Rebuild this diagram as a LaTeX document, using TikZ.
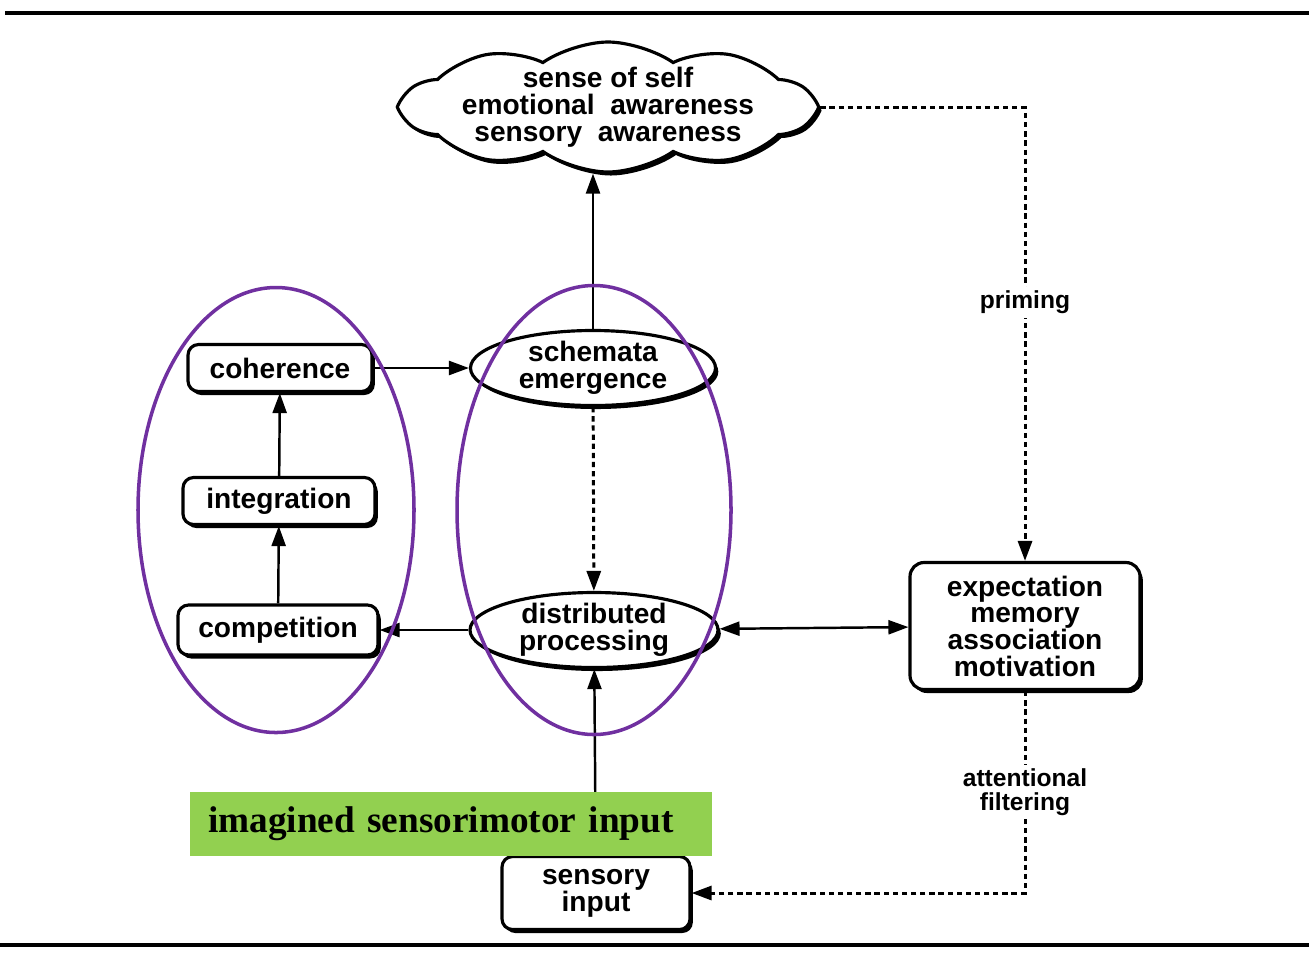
\documentclass[tikz,border=0pt]{standalone}
\usepackage{fontspec}
\setmainfont{Liberation Serif}
\newfontfamily\figfont{Liberation Sans}
\usetikzlibrary{arrows.meta,shapes.geometric,shapes.symbols,shadows}
\definecolor{grpviolet}{RGB}{112,48,160}
\definecolor{imaggreen}{RGB}{146,208,80}

\begin{document}
\begin{tikzpicture}[%
>={Triangle[length=2mm,width=1.4mm]},
% common options for the boxes:
box/.style = {draw, line width=0.9pt, rounded corners=3pt, fill=white, align=center,
            font=\figfont\bfseries\fontsize{8}{7.6}\selectfont, inner sep=0,
            drop shadow={shadow xshift=0.8pt, shadow yshift=-1pt, fill=black, opacity=1}},
% common options for the ellipses:
oval/.style = {ellipse, draw, line width=0.9pt, fill=white, align=center,
            font=\figfont\bfseries\fontsize{8}{7.6}\selectfont, inner sep=0,
            drop shadow={shadow xshift=0.8pt, shadow yshift=-1pt, fill=black, opacity=1}},
link/.style = {line width=0.7pt, ->},
dots/.style = {link, line width=0.85pt, dash pattern=on 1.5pt off 1.1pt},
note/.style = {fill=white, font=\figfont\bfseries\fontsize{7}{7}\selectfont, align=center, inner sep=1pt},
group/.style = {ellipse, draw=grpviolet, line width=1pt, inner sep=0}]
\useasboundingbox (0,0) rectangle (13.09,-9.58);
% rules above and below
\draw[line width=1.1pt] (0.05,-0.13) -- (13.09,-0.13);
\draw[line width=1.1pt] (0,-9.45) -- (13.09,-9.45);
% the nodes
\node[cloud, cloud puffs=10, cloud puff arc=70, cloud ignores aspect, draw, fill=white,
      line width=0.9pt, minimum width=4.1cm, minimum height=1.3cm, inner sep=0,
      drop shadow={shadow xshift=0.8pt, shadow yshift=-1pt, fill=black, opacity=1}]
      (self) at (6.08,-1.07) {};
\node[align=center, inner sep=0, font=\figfont\bfseries\fontsize{8}{7.7}\selectfont]
      (selftxt) at (self.center) {sense of self\\emotional\ \ awareness\\sensory\ \ awareness};
\node[oval, minimum width=2.45cm, minimum height=0.7cm] (schem) at (5.93,-3.68) {schemata\\emergence};
\node[oval, minimum width=2.48cm, minimum height=0.7cm] (distr) at (5.94,-6.30) {distributed\\processing};
\node[box, minimum width=1.84cm, minimum height=0.47cm] (coh) at (2.80,-3.68) {coherence};
\node[box, minimum width=1.92cm, minimum height=0.47cm] (integ) at (2.79,-5.01) {integration};
\node[box, minimum width=2.0cm, minimum height=0.5cm] (comp) at (2.78,-6.30) {competition};
\node[box, rounded corners=4pt, minimum width=2.30cm, minimum height=1.27cm] (expect) at (10.25,-6.26) {expectation\\memory\\association\\motivation};
\node[box, minimum width=1.88cm, minimum height=0.73cm] (sens) at (5.96,-8.93) {sensory\\input};
% the connectors
\draw[link] (sens) -- (distr);
\draw[link] (schem) -- (self.south -| schem.north);
\draw[link] (coh) -- (schem);
\draw[link] (comp) -- (integ);
\draw[link] (integ) -- (coh);
\draw[link] (distr) -- (comp);
\draw[link, <->] (distr) -- (expect);
\draw[dots] (schem) -- (distr);
\draw[dots] (self.east) -| node[note, pos=0.715] (prim) {priming} (expect.north);
\draw[dots] (expect.south) |- node[note, pos=0.25] (attn) {attentional\\filtering} (sens.east);
% the groups
\node[group, minimum width=2.76cm, minimum height=4.45cm] (grpL) at (2.76,-5.10) {};
\node[group, minimum width=2.74cm, minimum height=4.49cm] (grpR) at (5.94,-5.10) {};
% imagined input
\node[fill=imaggreen, text width=4.86cm, align=left, inner xsep=0.18cm, inner ysep=0,
      minimum height=0.64cm, font=\bfseries\fontsize{10.6}{12}\selectfont]
      (imag) at (4.51,-8.24) {imagined sensorimotor input};
\end{tikzpicture}
\end{document}
